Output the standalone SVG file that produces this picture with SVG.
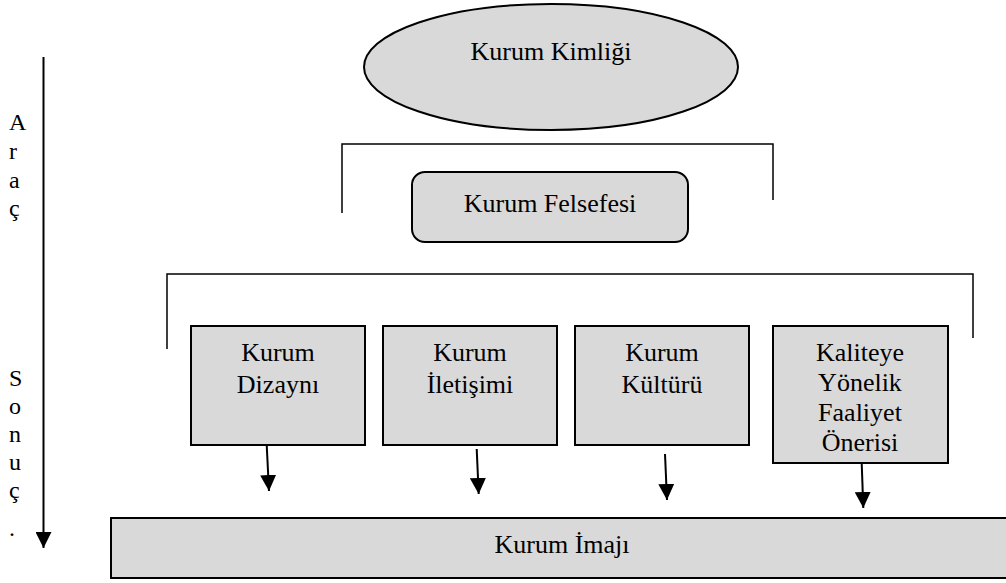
<svg xmlns="http://www.w3.org/2000/svg" width="1006" height="583" viewBox="0 0 1006 583">
<style>
  text { font-family: "Liberation Serif", "Times New Roman", serif; font-size: 26px; fill: #000; }
  .c { text-anchor: middle; }
  .side { font-size: 24px; }
  .node { fill: #d9d9d9; stroke: #000; stroke-width: 2; }
  .br { fill: none; stroke: #000; stroke-width: 1.5; }
  .arr { fill: none; stroke: #000; stroke-width: 2; marker-end: url(#ah); }
</style>
<defs>
  <marker id="ah" markerUnits="userSpaceOnUse" markerWidth="16" markerHeight="16" refX="15" refY="7.5" orient="auto" viewBox="0 0 15 15">
    <path d="M0,0 L15,7.5 L0,15 Z" fill="#000"/>
  </marker>
</defs>
<rect width="1006" height="583" fill="#fff"/>

<g id="side-labels">
  <text class="side" x="9" y="130">A</text>
  <text class="side" x="9" y="159">r</text>
  <text class="side" x="9" y="188">a</text>
  <text class="side" x="9" y="216">ç</text>
  <text class="side" x="9" y="386">S</text>
  <text class="side" x="9" y="414">o</text>
  <text class="side" x="9" y="442">n</text>
  <text class="side" x="9" y="470">u</text>
  <text class="side" x="9" y="498">ç</text>
  <text class="side" x="9" y="536">.</text>
</g>

<g id="kurum-kimligi">
  <ellipse class="node" cx="551" cy="67" rx="187" ry="63" stroke-width="1.5"/>
  <text class="c" x="551" y="60">Kurum Kimliği</text>
</g>

<g id="kurum-felsefesi">
  <rect class="node" x="412" y="172" width="276" height="70" rx="13" ry="13" stroke-width="1.5"/>
  <text class="c" x="550" y="212">Kurum Felsefesi</text>
</g>

<g id="kurum-dizayni">
  <rect class="node" x="191" y="326" width="174" height="119"/>
  <text class="c" x="278" y="361">Kurum</text>
  <text class="c" x="278" y="393">Dizaynı</text>
</g>

<g id="kurum-iletisimi">
  <rect class="node" x="383" y="326" width="174" height="119"/>
  <text class="c" x="470" y="361">Kurum</text>
  <text class="c" x="470" y="393">İletişimi</text>
</g>

<g id="kurum-kulturu">
  <rect class="node" x="575" y="326" width="174" height="119"/>
  <text class="c" x="662" y="361">Kurum</text>
  <text class="c" x="662" y="393">Kültürü</text>
</g>

<g id="kaliteye-yonelik">
  <rect class="node" x="773" y="326" width="175" height="137"/>
  <text class="c" x="860" y="361">Kaliteye</text>
  <text class="c" x="860" y="391">Yönelik</text>
  <text class="c" x="860" y="421">Faaliyet</text>
  <text class="c" x="860" y="451">Önerisi</text>
</g>

<g id="kurum-imaji">
  <rect class="node" x="111" y="518" width="900" height="60"/>
  <text class="c" x="562" y="553">Kurum İmajı</text>
</g>

<g id="connectors">
  <path class="br" d="M342,213 V144 H773 V200"/>
  <path class="br" d="M167,349 V274 H973 V338"/>
  <line class="arr" x1="43.5" y1="57" x2="43.5" y2="548"/>
  <line class="arr" x1="266.7" y1="445" x2="269" y2="491"/>
  <line class="arr" x1="476.7" y1="449" x2="478.7" y2="494"/>
  <line class="arr" x1="665" y1="454" x2="667" y2="500"/>
  <line class="arr" x1="861.7" y1="463" x2="863.3" y2="508"/>
</g>
</svg>
